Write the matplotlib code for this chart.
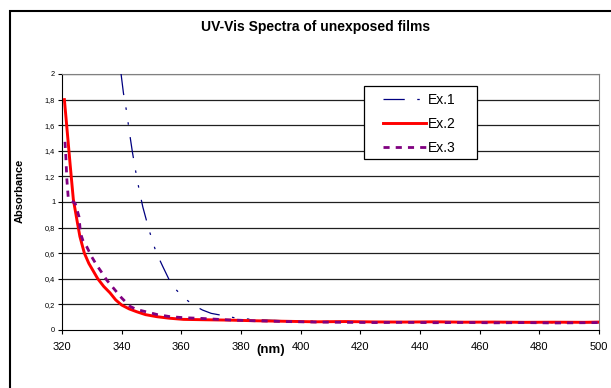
import matplotlib
matplotlib.use("Agg")
import matplotlib.pyplot as plt
from matplotlib.patches import Rectangle

plt.rcParams['font.family'] = ['Liberation Sans', 'DejaVu Sans']

# Ex.1 - navy, dash-dot-dot
ex1_x = [339.8, 340.6, 341.7, 342.5, 343.6, 344.7, 345.9, 347.1, 349.2, 351.5,
         353.7, 356.8, 360.7, 364.0, 367.1, 370.0, 373.0, 378.0, 385.0, 395.0,
         410.0, 430.0, 450.0, 470.0, 490.0, 500.0]
ex1_y = [2.0, 1.85, 1.70, 1.56, 1.39, 1.24, 1.09, 0.96, 0.78, 0.61,
         0.50, 0.35, 0.255, 0.195, 0.156, 0.13, 0.117, 0.095, 0.08, 0.072,
         0.066, 0.062, 0.060, 0.058, 0.057, 0.057]

# Ex.2 - red, solid
ex2_x = [320.8, 321.6, 322.7, 323.8, 325.0, 326.0, 327.5, 329.0, 330.5, 332.0,
         334.0, 336.1, 338.0, 340.0, 342.5, 345.0, 348.0, 351.8, 356.0, 360.7,
         368.0, 376.4, 385.0, 395.0, 405.0, 415.0, 425.0, 435.0, 445.0, 455.0,
         465.0, 475.0, 485.0, 495.0, 500.0]
ex2_y = [1.80, 1.59, 1.30, 1.02, 0.86, 0.73, 0.60, 0.52, 0.46, 0.40,
         0.34, 0.29, 0.235, 0.195, 0.165, 0.143, 0.12, 0.104, 0.092, 0.083,
         0.080, 0.077, 0.072, 0.068, 0.064, 0.066, 0.063, 0.062, 0.064, 0.061,
         0.062, 0.060, 0.061, 0.060, 0.062]

# Ex.3 - purple, dotted
ex3_x = [321.0, 321.3, 321.6, 322.1, 323.0, 324.4, 325.7, 326.2, 327.0, 328.3,
         330.0, 331.6, 333.3, 335.0, 337.5, 340.0, 342.8, 345.0, 349.5, 352.0,
         356.3, 361.0, 366.3, 371.0, 376.4, 385.0, 395.0, 405.0, 415.0, 425.0,
         435.0, 445.0, 455.0, 465.0, 475.0, 485.0, 495.0, 500.0]
ex3_y = [1.47, 1.35, 1.185, 1.03, 1.01, 0.99, 0.885, 0.755, 0.70, 0.65,
         0.57, 0.508, 0.45, 0.39, 0.32, 0.25, 0.185, 0.16, 0.135, 0.12,
         0.104, 0.096, 0.091, 0.085, 0.078, 0.072, 0.066, 0.062, 0.060, 0.058,
         0.060, 0.057, 0.059, 0.056, 0.058, 0.055, 0.057, 0.058]

x_ticks = [320, 340, 360, 380, 400, 420, 440, 460, 480, 500]
y_ticks = [0, 0.2, 0.4, 0.6, 0.8, 1.0, 1.2, 1.4, 1.6, 1.8, 2.0]
y_labels = ['0', '0,2', '0,4', '0,6', '0,8', '1', '1,2', '1,4', '1,6', '1,8', '2']

W, H = 611, 388
fig = plt.figure(figsize=(W / 100, H / 100), dpi=100)

# outer chart frame (runs off the right and bottom edges)
fig.patches.append(Rectangle((9.5 / W, -0.1), 1.2, 1.1 - 11 / H,
                             transform=fig.transFigure, fill=False,
                             edgecolor='black', linewidth=1.5))

ax = fig.add_axes([62 / W, 1 - 330 / H, (599 - 62) / W, (330 - 74) / H])
ax.set_xlim(320, 500)
ax.set_ylim(0, 2)

for y in y_ticks[1:]:
    ax.axhline(y, color='#202020', lw=0.9, zorder=1)

ax.plot(ex1_x, ex1_y, color='#000080', lw=0.9, dashes=(17, 10, 2, 10, 2, 10),
        label='Ex.1', zorder=3)
ax.plot(ex2_x, ex2_y, color='#ff0000', lw=2.1, label='Ex.2', zorder=4)
ax.plot(ex3_x, ex3_y, color='#800080', lw=2.0, dashes=(2.2, 2.2),
        label='Ex.3', zorder=5)

ax.set_xticks(x_ticks)
ax.set_yticks(y_ticks)
ax.set_yticklabels(y_labels)
ax.tick_params(axis='x', labelsize=8, length=3, width=0.8, direction='out', pad=6)
ax.tick_params(axis='y', labelsize=5.3, length=3, width=0.8, direction='out', pad=2)

for side in ['top', 'right']:
    ax.spines[side].set_color('#808080')
ax.spines['left'].set_color('black')
ax.spines['bottom'].set_color('black')

fig.text(316 / W, 1 - 27 / H, 'UV-Vis Spectra of unexposed films',
         ha='center', va='center', fontsize=10, fontweight='bold')
fig.text(271 / W, 1 - 350 / H, '(nm)', ha='center', va='center',
         fontsize=9.5, fontweight='bold')
fig.text(19.5 / W, 1 - 191 / H, 'Absorbance', ha='center', va='center',
         rotation=90, fontsize=8, fontweight='bold')

# legend box drawn separately so the side padding can be wider than the top
box = Rectangle((364 / W, 1 - 159 / H), (477 - 364) / W, (159 - 86) / H,
                transform=fig.transFigure, facecolor='white',
                edgecolor='black', linewidth=0.9, zorder=9)
fig.add_artist(box)
leg = ax.legend(loc='upper left', bbox_to_anchor=(383 / W, 1 - 92.5 / H),
                bbox_transform=fig.transFigure, borderaxespad=0, borderpad=0,
                fontsize=10, frameon=False, handlelength=3.1,
                handletextpad=0.15, labelspacing=0.72)
leg.set_zorder(10)
fig.add_artist(leg)

fig.savefig('out.png', dpi=100)
